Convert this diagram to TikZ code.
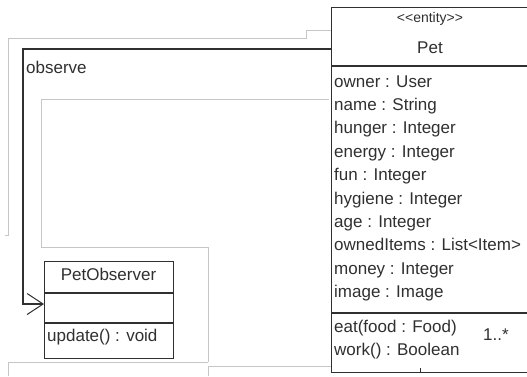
\documentclass[tikz,border=0pt]{standalone}
\usepackage{fontspec}
\setmainfont{Liberation Sans}
\usetikzlibrary{arrows.meta}
\definecolor{ink}{HTML}{303030}
\definecolor{ghost}{HTML}{C6C6C6}
\begin{document}
\begin{tikzpicture}[x=1pt,y=-1pt,
  every node/.style={text=ink, inner sep=0pt},
  txt/.style={font=\fontsize{17}{18}\selectfont},
  classbox/.style={draw=ink, line width=1.3pt, anchor=north west, fill=white},
  divider/.style={draw=ink, line width=1.3pt},
  ghostline/.style={draw=ghost, line width=1pt},
  conn/.style={draw=ink, line width=1.2pt, -{Straight Barb[length=16pt,width=21pt,line width=1pt]}}]
\useasboundingbox (0,0) rectangle (527,376);
\fill[white] (0,0) rectangle (527,376);
\clip (0,0) rectangle (527,376);
% faint gray outlines
\draw[ghostline] (5,235) -- (8,235) -- (8,38) -- (306,38) -- (306,30) -- (331,30);
\draw[ghostline] (329,99) -- (41,99) -- (41,247) -- (208,247) -- (208,362);
\draw[ghostline] (8,376) -- (8,362) -- (208,362);
\draw[ghostline] (208,376) -- (208,366) -- (331,366);
% Pet class
\node[classbox, minimum width=198pt, minimum height=365pt] (pet) at (331,7) {};
\draw[divider] ([yshift=-59pt]pet.north west) -- ([yshift=-59pt]pet.north east);
\draw[divider] ([yshift=-306pt]pet.north west) -- ([yshift=-306pt]pet.north east);
\draw[ink, line width=1pt] (420,372) -- (420,368);
\node[anchor=base, font=\fontsize{14}{15}\selectfont] (stereo) at (430,22) {<{}<entity>{}>};
\node[txt, anchor=base] (petname) at (430,53) {Pet};
\node[txt, anchor=base west] (a1) at (334,87) {owner : User};
\node[txt, anchor=base west] (a2) at (334,110.4) {name : String};
\node[txt, anchor=base west] (a3) at (334,133.8) {hunger : Integer};
\node[txt, anchor=base west] (a4) at (334,157.2) {energy : Integer};
\node[txt, anchor=base west] (a5) at (334,180.6) {fun : Integer};
\node[txt, anchor=base west] (a6) at (334,204) {hygiene : Integer};
\node[txt, anchor=base west] (a7) at (334,227.4) {age : Integer};
\node[txt, anchor=base west] (a8) at (334,250.8) {ownedItems : List<Item>};
\node[txt, anchor=base west] (a9) at (334,274.2) {money : Integer};
\node[txt, anchor=base west] (a10) at (334,297.6) {image : Image};
\node[txt, anchor=base west] (m1) at (334,332) {eat(food : Food)};
\node[txt, anchor=base west] (m2) at (334,355.4) {work() : Boolean};
\node[txt, anchor=base] (mult) at (496,340) {1..*};
% PetObserver class
\node[classbox, minimum width=129pt, minimum height=97pt] (obs) at (44,261) {};
\draw[divider] ([yshift=-32pt]obs.north west) -- ([yshift=-32pt]obs.north east);
\draw[divider] ([yshift=-62pt]obs.north west) -- ([yshift=-62pt]obs.north east);
\node[txt, anchor=base] (obsname) at (108.5,280) {PetObserver};
\node[txt, anchor=base west] (op1) at (47,341) {update() : void};
% connector
\coordinate (bend) at (23,49);
\draw[conn] ([yshift=-42pt]pet.north west) -- (bend) |- ([yshift=-43pt]obs.north west);
\node[txt, anchor=base west] (lbl) at (26,73) {observe};
\end{tikzpicture}
\end{document}
